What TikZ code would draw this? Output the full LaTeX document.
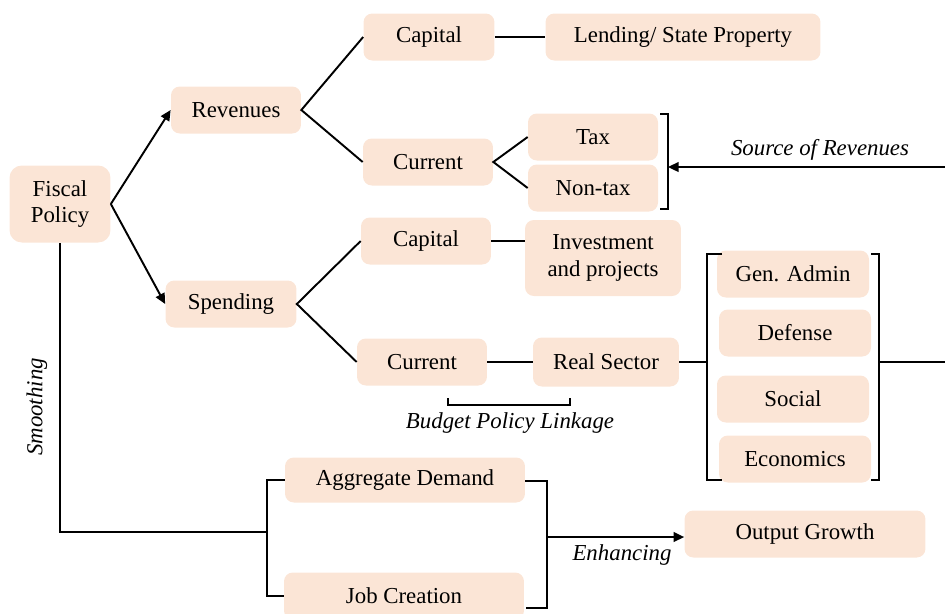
\documentclass[tikz,border=0pt]{standalone}
\usepackage{fontspec}
\setmainfont{Liberation Serif}
\usetikzlibrary{arrows.meta}
\definecolor{peach}{HTML}{FBE5D6}

\begin{document}
\begin{tikzpicture}[x=0.02cm, y=-0.02cm]
            \tikzstyle{item box} = [fill=peach, rounded corners=5pt, align=center, inner sep=2pt, minimum width=2.6cm, minimum height=0.94cm, font=\fontsize{13}{15}\selectfont]
            \tikzstyle{link} = [line width=1.1pt]
            \tikzstyle{flow} = [line width=1.1pt, -{Triangle[length=6pt, width=5.5pt]}]
            \tikzstyle{side label} = [font=\fontsize{13}{15}\selectfont\itshape]
            \useasboundingbox (0, 0) rectangle (945, 613);
            \clip (0, 0) rectangle (945, 613);
            % left side
            \node[item box, minimum width=2.02cm, minimum height=1.54cm, rounded corners=7pt] (fiscal) at (60, 204) {Fiscal\\Policy};
            \node[item box] (rev) at (236, 110) {Revenues};
            \node[item box, minimum width=2.62cm] (spend) at (231, 304) {Spending};
            % revenues
            \node[item box, minimum width=2.62cm] (caprev) at (429, 37) {Capital};
            \node[item box, minimum width=5.5cm] (lending) at (683, 37) {Lending/ State Property};
            \node[item box] (currev) at (428, 162) {Current};
            \node[item box] (tax) at (593, 137) {Tax};
            \node[item box] (nontax) at (593, 188) {Non-tax};
            % spending
            \node[item box] (capsp) at (426, 241) {Capital};
            \node[item box, minimum width=3.12cm, minimum height=1.52cm] (invest) at (603, 258) {Investment\\and projects};
            \node[item box] (cursp) at (422, 362) {Current};
            \node[item box, minimum width=2.92cm, minimum height=0.98cm] (real) at (606, 362) {Real Sector};
            \node[item box, minimum width=3.04cm] (admin) at (793, 274) {Gen. Admin};
            \node[item box, minimum width=3.04cm] (defense) at (795, 333) {Defense};
            \node[item box, minimum width=3.04cm] (social) at (793, 399) {Social};
            \node[item box, minimum width=3.04cm] (econ) at (795, 459) {Economics};
            % bottom
            \node[item box, minimum width=4.8cm, minimum height=0.9cm] (demand) at (405, 480) {Aggregate Demand};
            \node[item box, minimum width=4.8cm] (jobs) at (404, 596) {Job Creation};
            \node[item box, minimum width=4.82cm] (output) at (805, 534) {Output Growth};
            % connectors
            \draw[flow] (fiscal.east) -- (rev.west);
            \draw[flow] (fiscal.east) -- (spend.west);
            \draw[link] (caprev.west) -- (rev.east) -- (currev.west);
            \draw[link] (caprev.east) -- (lending.west);
            \draw[link] (tax.west) -- (currev.east) -- (nontax.west);
            \draw[link] (capsp.west) -- (spend.east) -- (cursp.west);
            \draw[link] (capsp.east) -- (capsp.east -| invest.west);
            \draw[link] (cursp.east) -- (real.west);
            % source of revenues
            \draw[link] (660, 114) -- (668, 114) -- (668, 209) -- (660, 209);
            \coordinate (revsrc) at (945, 167);
            \coordinate (revbr) at (668, 167);
            \draw[flow] (revsrc) -- (revbr);
            \node[side label] (srclabel) at (820, 150) {Source of Revenues};
            % sectors
            \draw[link] (722, 254) -- (707, 254) -- (707, 480) -- (722, 480);
            \draw[link] (871, 254) -- (879, 254) -- (879, 480) -- (871, 480);
            \coordinate (secl) at (707, 362);
            \coordinate (secr) at (879, 362);
            \coordinate (secout) at (945, 362);
            \draw[link] (real.east) -- (secl);
            \draw[link] (secr) -- (secout);
            % budget policy linkage
            \draw[link] (448, 398) -- (448, 405) -- (570, 405) -- (570, 398);
            \node[side label] (budget) at (510, 423) {Budget Policy Linkage};
            % smoothing
            \coordinate (smooth) at (267, 532);
            \draw[link] (fiscal.south) |- (smooth);
            \draw[link] (demand.west) -| (smooth) |- (jobs.west);
            \node[side label, rotate=90] (smoothlabel) at (37, 407) {Smoothing};
            % enhancing
            \draw[link] (525, 481) -- (547, 481) -- (547, 608) -- (526, 608);
            \coordinate (enh) at (547, 537);
            \draw[flow] (enh) -- (enh -| output.west);
            \node[side label] (enhlabel) at (622, 555) {Enhancing};
        \end{tikzpicture}
\end{document}
